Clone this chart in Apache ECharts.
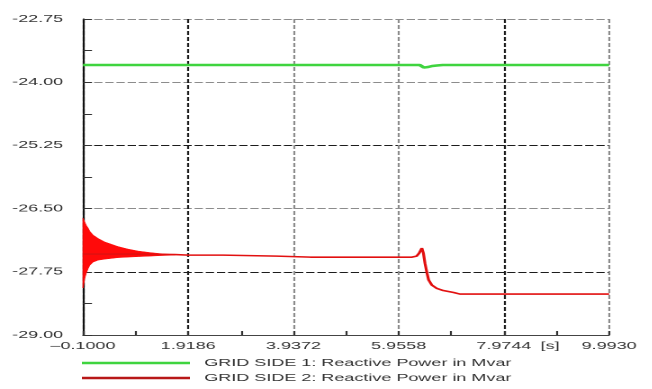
<!DOCTYPE html>
<html>
<head>
<meta charset="utf-8">
<script src="https://cdn.jsdelivr.net/npm/echarts@6/dist/echarts.min.js"></script>
<style>
  html, body { margin: 0; padding: 0; background: #fff; overflow: hidden; }
  /* the plot is laid out narrow and widened horizontally, like the simulator export */
  #chart { width: 362.2px; height: 389px; transform: scaleX(1.8); transform-origin: 0 0; }
</style>
</head>
<body>
<div id="chart"></div>
<script>
// axis ranges (time in s, reactive power in Mvar)
const T_START = -0.1, T_END = 9.993, T_STEP = 2.0186;
const Q_MIN = -29.0, Q_MAX = -22.75, Q_STEP = 1.25;

const side1Name = 'GRID SIDE 1: Reactive Power in Mvar';
const side2Name = 'GRID SIDE 2: Reactive Power in Mvar';

// grid side 1 reactive power
const side1Time = [-0.1, 6.36, 6.39, 6.44, 6.52, 6.60, 6.69, 6.80, 9.993];
const side1Q    = [-23.66, -23.66, -23.69, -23.71, -23.70, -23.68, -23.67, -23.66, -23.66];

// grid side 2 reactive power (mean trace)
const side2Time = [-0.1, 0.80, 1.67, 1.92, 2.59, 3.62, 4.26, 5.27, 6.08, 6.21, 6.30, 6.35, 6.38, 6.40,
                   6.43, 6.46, 6.50, 6.53, 6.59, 6.69, 6.81, 7.01, 7.13, 9.993];
const side2Q    = [-27.40, -27.40, -27.41, -27.42, -27.42, -27.44, -27.46, -27.46, -27.46, -27.46, -27.44, -27.38, -27.32, -27.28,
                   -27.38, -27.58, -27.78, -27.91, -28.01, -28.08, -28.12, -28.16, -28.19, -28.19];

// grid side 2 start-up ringing: upper and lower envelope
const ringTime  = [-0.1, -0.07, -0.04, 0.0, 0.03, 0.09, 0.19, 0.32, 0.57, 0.76, 0.96, 1.19, 1.38, 1.67];
const ringUpper = [-26.69, -26.76, -26.83, -26.89, -26.95, -27.02, -27.09, -27.16, -27.25, -27.30, -27.34, -27.37, -27.39, -27.41];
const ringLower = [-28.07, -27.89, -27.78, -27.68, -27.62, -27.56, -27.52, -27.50, -27.47, -27.46, -27.45, -27.44, -27.43, -27.42];

// axes count ticks from their minimum, so values are plotted relative to the axis start
const toX = t => t - T_START;
const toY = q => q - Q_MIN;
const pairs = (ts, qs) => ts.map((t, i) => [toX(t), toY(qs[i])]);

const GREEN = '#3fd43f';
const RED = '#e21010';
const RED_LEGEND = '#b81818';
const DARK = '#1c1c1c';
const GRAY = '#8c8c8c';
const FONT = 'Liberation Sans, Arial, sans-serif';

const chart = echarts.init(document.getElementById('chart'), null, { devicePixelRatio: 2 });

// filled band between the ringing envelopes, mapped through the axes
function renderRing(params, api) {
  const upper = ringTime.map((t, i) => api.coord([toX(t), toY(ringUpper[i])]));
  const lower = ringTime.map((t, i) => api.coord([toX(t), toY(ringLower[i])])).reverse();
  return {
    type: 'polygon',
    shape: { points: upper.concat(lower) },
    style: { fill: '#ff0a0a', stroke: '#ff0a0a', lineWidth: 0.5 }
  };
}

chart.setOption({
  animation: false,
  backgroundColor: '#fff',
  grid: { left: 46.1, right: 23.6, top: 19, bottom: 54 },
  xAxis: {
    type: 'value',
    min: 0,
    max: +(T_END - T_START).toFixed(4),
    interval: T_STEP,
    axisLine: { show: true, lineStyle: { color: '#444', width: 1 } },
    axisTick: { show: true, inside: true, length: 4, lineStyle: { color: '#333', width: 1.1 } },
    minorTick: { show: true, splitNumber: 2, length: 4, lineStyle: { color: '#333', width: 1.1 } },
    axisLabel: {
      margin: 6, fontSize: 10, fontFamily: FONT, color: '#333',
      formatter: v => (v + T_START).toFixed(4).replace('-', '\u2013')
    },
    splitLine: {
      show: true,
      lineStyle: { color: ['#444', DARK, GRAY, GRAY, DARK, GRAY], width: 1.1, type: [4, 2] }
    }
  },
  yAxis: {
    type: 'value',
    min: 0,
    max: +(Q_MAX - Q_MIN).toFixed(2),
    interval: Q_STEP,
    axisLine: { show: true, lineStyle: { color: '#111', width: 1.1 } },
    axisTick: { show: true, inside: true, length: 5, lineStyle: { color: '#333', width: 1 } },
    minorTick: { show: true, splitNumber: 2, length: 5, lineStyle: { color: '#333', width: 1 } },
    axisLabel: {
      margin: 11, fontSize: 10, fontFamily: FONT, color: '#333',
      formatter: v => (v + Q_MIN).toFixed(2)
    },
    splitLine: {
      show: true,
      lineStyle: { color: ['#444', DARK, GRAY, DARK, GRAY, GRAY], width: 1, type: [4.6, 1.6] }
    }
  },
  legend: {
    orient: 'vertical',
    left: 45.5,
    top: 357,
    padding: 0,
    icon: 'rect',
    itemWidth: 60,
    itemHeight: 2.5,
    itemGap: 3,
    textStyle: { fontSize: 10, lineHeight: 12, fontFamily: FONT, color: '#333', padding: [0, 0, 0, 3] },
    data: [
      { name: side1Name, itemStyle: { color: GREEN } },
      { name: side2Name, itemStyle: { color: RED_LEGEND } }
    ]
  },
  graphic: [{
    type: 'text', left: 300.3, top: 341,
    style: { text: '[s]', fontSize: 10, fontFamily: FONT, fill: '#333' }
  }],
  series: [
    {
      name: 'ringing', type: 'custom', silent: true, z: 2,
      renderItem: renderRing,
      data: [[toX(ringTime[0]), toY(ringUpper[0])]]
    },
    {
      name: side2Name, type: 'line', symbol: 'none', color: RED,
      lineStyle: { color: RED, width: 1.6 },
      data: pairs(side2Time, side2Q), z: 3
    },
    {
      name: side1Name, type: 'line', symbol: 'none', color: GREEN,
      lineStyle: { color: GREEN, width: 2.5 },
      data: pairs(side1Time, side1Q), z: 3
    }
  ]
});
</script>
</body>
</html>
